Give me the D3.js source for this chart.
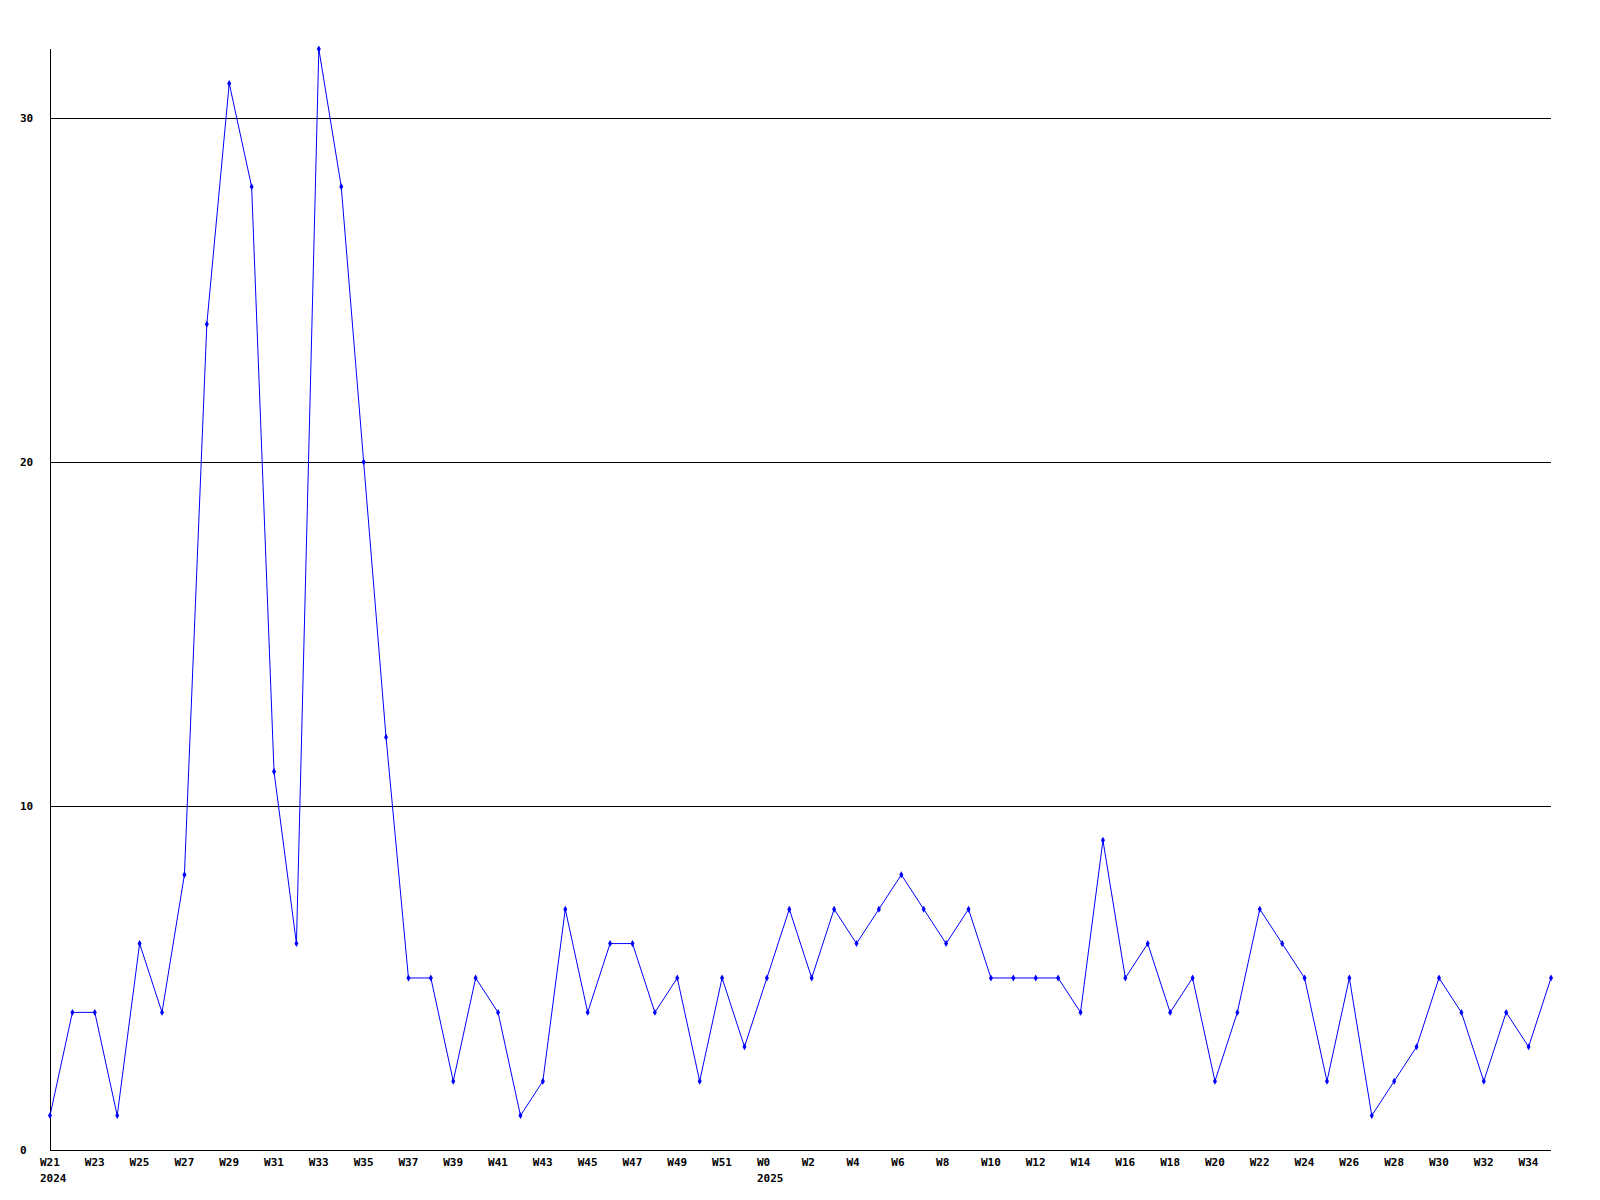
<!DOCTYPE html>
<html><head><meta charset="utf-8">
<script src="https://cdn.jsdelivr.net/npm/d3@7"></script>
<style>body{margin:0;background:#fff}svg{display:block}</style>
</head><body>
<script>
const weeks = ["W21","W22","W23","W24","W25","W26","W27","W28","W29","W30","W31","W32","W33","W34","W35","W36","W37","W38","W39","W40","W41","W42","W43","W44","W45","W46","W47","W48","W49","W50","W51","W52",
"W0","W1","W2","W3","W4","W5","W6","W7","W8","W9","W10","W11","W12","W13","W14","W15","W16","W17","W18","W19","W20","W21","W22","W23","W24","W25","W26","W27","W28","W29","W30","W31","W32","W33","W34","W35"];
const years = {0:"2024", 32:"2025"};
const values = [1,4,4,1,6,4,8,24,31,28,11,6,32,28,20,12,5,5,2,5,4,1,2,7,4,6,6,4,5,2,5,3,
5,7,5,7,6,7,8,7,6,7,5,5,5,5,4,9,5,6,4,5,2,4,7,6,5,2,5,1,2,3,5,4,2,4,3,5];
const yTicks = [0,10,20,30];

const W=1600,H=1200, L=50, R=1551, T=49, B=1150;
const svg=d3.select("body").append("svg").attr("width",W).attr("height",H);
const x=d3.scaleLinear().domain([0,weeks.length-1]).range([L,R]);
const y=d3.scaleLinear().domain([0,32]).range([B,T]);
const font="'DejaVu Sans Mono', monospace";

// grid
svg.append("g").selectAll("line").data(yTicks.filter(d=>d>0)).join("line")
 .attr("x1",L).attr("x2",R).attr("y1",d=>Math.round(y(d))+0.5).attr("y2",d=>Math.round(y(d))+0.5)
 .attr("stroke","#000").attr("stroke-width",1);
// axes
svg.append("line").attr("x1",L+0.5).attr("x2",L+0.5).attr("y1",T).attr("y2",B).attr("stroke","#000");
svg.append("line").attr("x1",L).attr("x2",R).attr("y1",B+0.5).attr("y2",B+0.5).attr("stroke","#000");

// y labels
svg.append("g").selectAll("text").data(yTicks).join("text")
 .attr("x",20).attr("y",d=>y(d)+4).text(d=>d)
 .attr("font-family",font).attr("font-size",11).attr("font-weight","bold");

// x labels
const xl=svg.append("g").selectAll("g").data(weeks.map((w,i)=>({w,i})).filter(d=>d.i%2===0)).join("g");
xl.append("text").attr("x",d=>x(d.i)-10).attr("y",1166).text(d=>d.w)
 .attr("font-family",font).attr("font-size",11).attr("font-weight","bold");
svg.append("g").selectAll("text").data(Object.keys(years).map(Number)).join("text")
 .attr("x",d=>x(d)-10).attr("y",1182).text(d=>years[d])
 .attr("font-family",font).attr("font-size",11).attr("font-weight","bold");

// line
const line=d3.line().x((d,i)=>x(i)).y(d=>y(d));
svg.append("path").datum(values).attr("d",line).attr("fill","none").attr("stroke","#0000ff").attr("stroke-width",1);
// markers
svg.append("g").selectAll("path").data(values).join("path")
 .attr("d",d3.symbol(d3.symbolDiamond,14))
 .attr("transform",(d,i)=>`translate(${x(i)},${y(d)})`).attr("fill","#0000ff");
</script>
</body></html>
